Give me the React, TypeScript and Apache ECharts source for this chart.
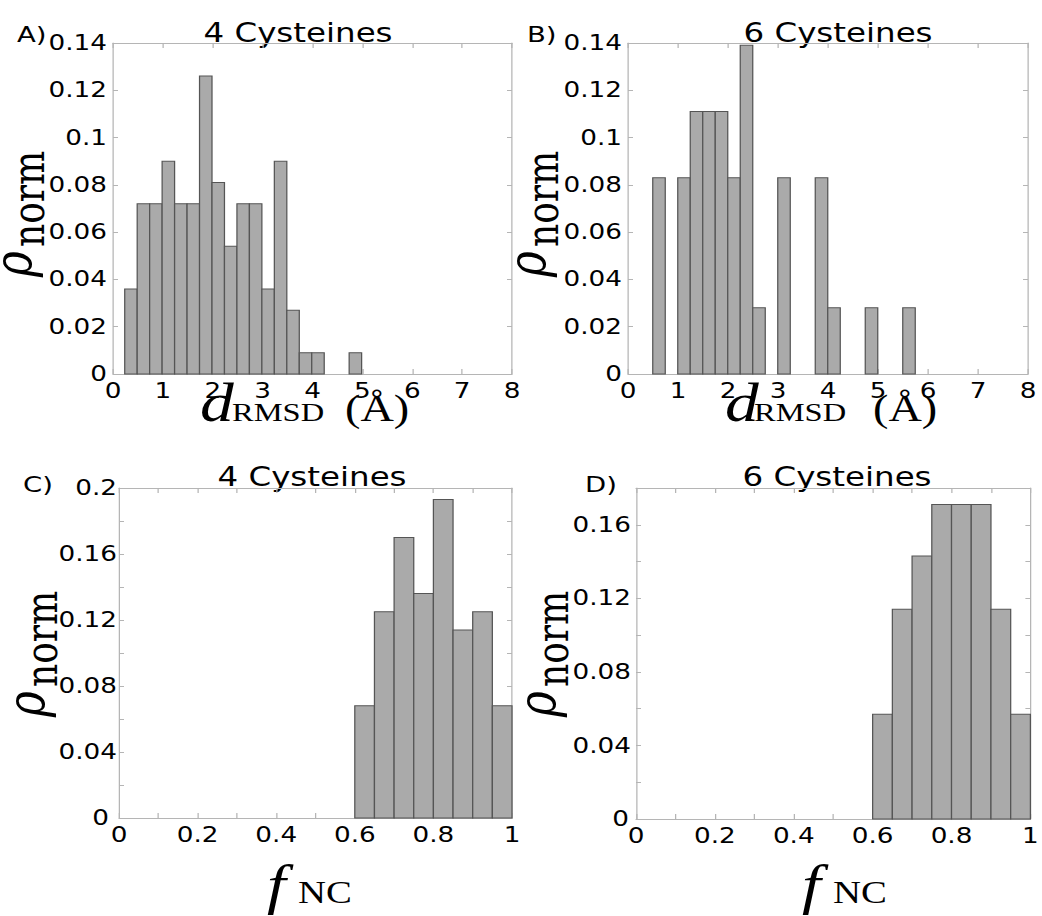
import React, { useEffect, useRef } from "react";
import * as echarts from "echarts";

// ---- Data ----
// Panel A: 4 cysteines, RMSD histogram
const rmsd4BinStarts = [0.235, 0.485, 0.735, 0.985, 1.235, 1.485, 1.735, 1.985, 2.235, 2.485, 2.735, 2.985, 3.235, 3.485, 3.735, 3.985, 4.235, 4.485, 4.735];
const rmsd4BinWidth = 0.25;
const rmsd4Density = [0.036, 0.072, 0.072, 0.090, 0.072, 0.072, 0.126, 0.081, 0.054, 0.072, 0.072, 0.036, 0.090, 0.027, 0.009, 0.009, 0, 0, 0.009];

// Panel B: 6 cysteines, RMSD histogram
const rmsd6BinStarts = [0.495, 0.745, 0.995, 1.245, 1.495, 1.745, 1.995, 2.245, 2.495, 2.745, 2.995, 3.245, 3.495, 3.745, 3.995, 4.245, 4.495, 4.745, 4.995, 5.245, 5.495];
const rmsd6BinWidth = 0.25;
const rmsd6Density = [0.083, 0, 0.083, 0.111, 0.111, 0.111, 0.083, 0.139, 0.028, 0, 0.083, 0, 0, 0.083, 0.028, 0, 0, 0.028, 0, 0, 0.028];

// Panel C: 4 cysteines, fraction of native contacts
const nc4BinStarts = [0.6, 0.65, 0.7, 0.75, 0.8, 0.85, 0.9, 0.95];
const nc4BinWidth = 0.05;
const nc4Density = [0.068, 0.125, 0.170, 0.136, 0.193, 0.114, 0.125, 0.068];

// Panel D: 6 cysteines, fraction of native contacts
const nc6BinStarts = [0.6, 0.65, 0.7, 0.75, 0.8, 0.85, 0.9, 0.95];
const nc6BinWidth = 0.05;
const nc6Density = [0.057, 0.114, 0.143, 0.171, 0.171, 0.171, 0.114, 0.057];

// Tick values
const rmsdXTicks = [0, 1, 2, 3, 4, 5, 6, 7, 8];
const rmsdYTicks = [0, 0.02, 0.04, 0.06, 0.08, 0.1, 0.12, 0.14];
const ncXTicks = [0, 0.2, 0.4, 0.6, 0.8, 1];
const nc4YTicks = [0, 0.04, 0.08, 0.12, 0.16, 0.2];
const nc6YTicks = [0, 0.04, 0.08, 0.12, 0.16];
const nc6YMax = 0.18;

const panelTitles = ["4 Cysteines", "6 Cysteines", "4 Cysteines", "6 Cysteines"];
const panelLetters = ["A)", "B)", "C)", "D)"];

// ---- Styling ----
// The reference figure is stretched horizontally by ~1.25; the chart is drawn
// at 1/1.25 of the width and stretched back with a CSS transform.
const STRETCH = 1.25;
const rx = (x: number) => x / STRETCH;
const SANS = "'DejaVu Sans', sans-serif";
const SERIF = "'Liberation Serif', 'Times New Roman', serif";
const DVSERIF = "'DejaVu Serif', serif";
const FRAME = "#b5b5b5";
const CENTRAL_DV = 0.346;
const CENTRAL_LIB = 0.3375;
const TICK_FONT = 21;

function histData(starts: number[], width: number, dens: number[]) {
  return starts
    .map((s, i) => [s, s + width, dens[i]])
    .filter((d) => d[2] > 0);
}

const renderHist = (_params: any, api: any) => {
  const x0 = api.value(0);
  const x1 = api.value(1);
  const h = api.value(2);
  const p0 = api.coord([x0, h]);
  const p1 = api.coord([x1, 0]);
  return {
    type: "rect",
    shape: { x: p0[0], y: p0[1], width: p1[0] - p0[0], height: p1[1] - p0[1] },
    style: { fill: "#aaaaaa", stroke: "#555555", lineWidth: 1 },
  };
};

const fmt = (v: number) => String(Number(v.toFixed(3)));

function buildAxes(
  gridIndex: number,
  xTicks: number[],
  yTicks: number[],
  yMax: number,
  xMinor: number,
  yMinor: number,
  yLabelMargin: number,
  showMaxY: boolean,
  zeroPad: number
) {
  const xMin = xTicks[0];
  const xMax = xTicks[xTicks.length - 1];
  const xInt = xTicks[1] - xTicks[0];
  const yMin = yTicks[0];
  const yInt = yTicks[1] - yTicks[0];
  const line = { show: true, onZero: false, lineStyle: { color: FRAME, width: 1 } };
  const xTick = { show: true, inside: true, length: 5, lineStyle: { color: FRAME, width: 1 } };
  const yTick = { show: true, inside: true, length: 4, lineStyle: { color: FRAME, width: 1 } };
  const minor = (n: number, len: number) => ({
    show: n > 1,
    splitNumber: n,
    length: len,
    lineStyle: { color: FRAME, width: 1 },
  });
  const label = {
    color: "#000",
    fontSize: TICK_FONT,
    fontFamily: SANS,
  };
  const xBase = {
    type: "value",
    gridIndex,
    min: xMin,
    max: xMax,
    interval: xInt,
    axisLine: line,
    axisTick: xTick,
    minorTick: minor(xMinor, 5),
    splitLine: { show: false },
  };
  const yBase = {
    type: "value",
    gridIndex,
    min: yMin,
    max: yMax,
    interval: yInt,
    axisLine: line,
    axisTick: yTick,
    minorTick: minor(yMinor, 4),
    splitLine: { show: false },
  };
  const xAxes = [
    { ...xBase, position: "bottom", axisLabel: { ...label, margin: 6, formatter: (v: number) => fmt(v) } },
    { ...xBase, position: "top", axisLabel: { show: false } },
  ];
  const yAxes = [
    {
      ...yBase,
      position: "left",
      axisLabel: {
        ...label,
        margin: yLabelMargin,
        showMaxLabel: showMaxY,
        formatter: (v: number) => (v === 0 ? "{z|0}" : fmt(v)),
        rich: {
          z: {
            color: "#000",
            fontSize: TICK_FONT,
            fontFamily: SANS,
            padding: [0, zeroPad, 0, 0],
          },
        },
      },
    },
    { ...yBase, position: "right", axisLabel: { show: false } },
  ];
  return { xAxes, yAxes };
}

function txt(
  text: string,
  x: number,
  baseline: number,
  size: number,
  family: string,
  central: number,
  opts: { align?: string; italic?: boolean } = {}
) {
  const align = opts.align || "left";
  return {
    type: "text",
    x,
    y: baseline - central * size,
    style: {
      text,
      fontSize: size,
      fontFamily: family,
      fontStyle: opts.italic ? "italic" : "normal",
      fill: "#000",
      align,
      textAlign: align,
      verticalAlign: "middle",
      textVerticalAlign: "middle",
    },
  };
}

// y-axis name rho_norm, rotated to read bottom-to-top.
// (ox, oy) = rho baseline x (unstretched px) and the name's bottom y.
function yName(ox: number, oy: number, shift: number) {
  return {
    type: "group",
    x: ox,
    y: oy,
    rotation: Math.PI / 2,
    children: [
      txt("ρ", 0, 0, 44, DVSERIF, CENTRAL_DV, { italic: true }),
      txt("norm", 30, shift, 36, DVSERIF, CENTRAL_DV),
    ],
  };
}

const CHART_W = Math.round(1042 / STRETCH);

export default function App() {
  const ref = useRef<HTMLDivElement>(null);

  useEffect(() => {
    document.body.style.margin = "0";
    if (!ref.current) return;
    const chart = echarts.init(ref.current, undefined, { renderer: "svg" });

    const grids = [
      { left: rx(113), top: 43, width: rx(399), height: 331 },
      { left: rx(628), top: 43, width: rx(400), height: 331 },
      { left: rx(119), top: 488, width: rx(393), height: 330 },
      { left: rx(636), top: 488, width: rx(400), height: 331 },
    ];

    const rmsdYMax = rmsdYTicks[rmsdYTicks.length - 1];
    const nc4YMax = nc4YTicks[nc4YTicks.length - 1];
    const axA = buildAxes(0, rmsdXTicks, rmsdYTicks, rmsdYMax, 1, 1, rx(6), true, 0);
    const axB = buildAxes(1, rmsdXTicks, rmsdYTicks, rmsdYMax, 1, 1, rx(6), true, 0);
    const axC = buildAxes(2, ncXTicks, nc4YTicks, nc4YMax, 2, 2, rx(2), true, rx(8));
    const axD = buildAxes(3, ncXTicks, nc6YTicks, nc6YMax, 2, 2, rx(5), false, rx(2));
    const all = [axA, axB, axC, axD];

    const hist = [
      histData(rmsd4BinStarts, rmsd4BinWidth, rmsd4Density),
      histData(rmsd6BinStarts, rmsd6BinWidth, rmsd6Density),
      histData(nc4BinStarts, nc4BinWidth, nc4Density),
      histData(nc6BinStarts, nc6BinWidth, nc6Density),
    ];

    const series = hist.map((data, i) => ({
      type: "custom",
      xAxisIndex: 2 * i,
      yAxisIndex: 2 * i,
      renderItem: renderHist,
      encode: { x: [0, 1], y: 2 },
      data,
      z: 2,
    }));

    const titlePos = [
      [298, 42],
      [838, 42],
      [312, 486],
      [837, 486],
    ];
    const letterPos = [
      [17, 42],
      [527, 42],
      [23, 492],
      [585, 492],
    ];

    const graphic: any[] = [];
    titlePos.forEach((p, i) =>
      graphic.push(txt(panelTitles[i], rx(p[0]), p[1], 26, SANS, CENTRAL_DV, { align: "center" }))
    );
    letterPos.forEach((p, i) =>
      graphic.push(txt(panelLetters[i], rx(p[0]), p[1], 22, SANS, CENTRAL_DV))
    );

    // x-axis names: d_RMSD (Å)
    [[200, 232, 345], [725, 754, 873]].forEach((p) => {
      graphic.push(txt("d", rx(p[0]), 421, 54, SERIF, CENTRAL_LIB, { italic: true }));
      graphic.push(txt("RMSD", rx(p[1]), 421, 26, SERIF, CENTRAL_LIB));
      graphic.push(txt("(Å)", rx(p[2]), 421, 37, SERIF, CENTRAL_LIB));
    });
    // x-axis names: f_NC
    [[267, 298], [802, 833]].forEach((p) => {
      graphic.push(txt("f", rx(p[0]), 903, 54, SERIF, CENTRAL_LIB, { italic: true }));
      graphic.push(txt("NC", rx(p[1]), 903, 31, SERIF, CENTRAL_LIB));
    });
    // y-axis names: rho_norm
    graphic.push(yName(rx(32), 277, 9.5));
    graphic.push(yName(rx(546), 277, 9.5));
    graphic.push(yName(rx(45), 717, 9.5));
    graphic.push(yName(rx(556), 717, 9.5));

    chart.setOption({
      animation: false,
      backgroundColor: "#ffffff",
      grid: grids,
      xAxis: all.flatMap((a) => a.xAxes),
      yAxis: all.flatMap((a) => a.yAxes),
      series,
      graphic,
    });

    return () => chart.dispose();
  }, []);

  return (
    <div style={{ width: 1042, height: 916, overflow: "hidden", background: "#fff" }}>
      <div
        ref={ref}
        style={{
          width: CHART_W,
          height: 916,
          transform: `scaleX(${STRETCH})`,
          transformOrigin: "0 0",
        }}
      />
    </div>
  );
}
